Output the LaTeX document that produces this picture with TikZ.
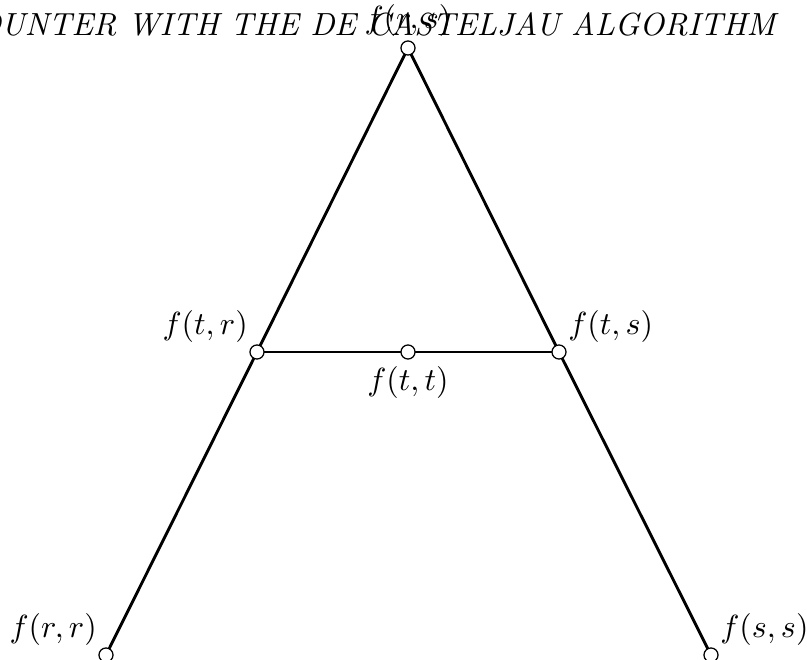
\documentclass[tikz,border=0pt]{standalone}
\begin{document}
\begin{tikzpicture}[x=0.3125pt,y=-0.3125pt,
  pt/.style={circle,draw,fill=white,inner sep=0pt,minimum size=4.4pt,line width=0.4pt},
  edge/.style={line width=0.9pt}]
\useasboundingbox (0,0) rectangle (807,660);
\node[anchor=base east,inner sep=0pt,font={\fontsize{10pt}{12pt}\selectfont\itshape}] (title) at (776,35) {OUNTER WITH THE DE CASTELJAU ALGORITHM};
\coordinate (rs) at (408,48);
\coordinate (tr) at (257,352);
\coordinate (tt) at (408,352);
\coordinate (ts) at (559,352);
\coordinate (rr) at (106,655);
\coordinate (ss) at (711,655);
\draw[edge] (rr) -- (tr) -- (rs) -- (ts) -- (ss);
\draw[edge] (tr) -- (tt) -- (ts);
\node[pt,label={[inner sep=1pt]above:$f(r,s)$}] (nrs) at (rs) {};
\node[pt,label={[inner sep=1pt]above left:$f(t,r)$}] (ntr) at (tr) {};
\node[pt,label={[inner sep=2pt]below:$f(t,t)$}] (ntt) at (tt) {};
\node[pt,label={[inner sep=1pt]above right:$f(t,s)$}] (nts) at (ts) {};
\node[pt,label={[inner sep=1pt]above left:$f(r,r)$}] (nrr) at (rr) {};
\node[pt,label={[inner sep=1pt]above right:$f(s,s)$}] (nss) at (ss) {};
\end{tikzpicture}
\end{document}
